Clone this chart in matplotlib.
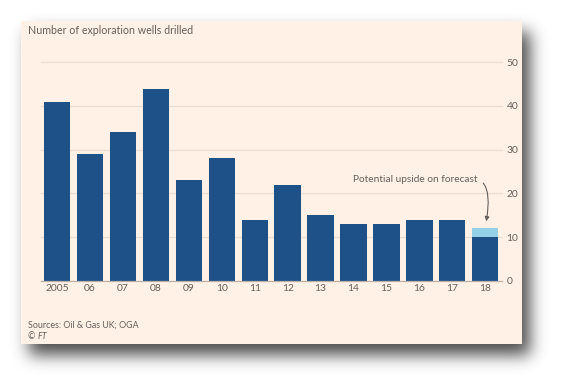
import numpy as np
import matplotlib
matplotlib.use("Agg")
import matplotlib.pyplot as plt
from matplotlib.patches import Rectangle

# ---- data ----
years = ["2005", "06", "07", "08", "09", "10", "11", "12", "13", "14", "15", "16", "17", "18"]
wells = [41, 29, 34, 44, 23, 28, 14, 22, 15, 13, 13, 14, 14, 10]
upside = [0, 0, 0, 0, 0, 0, 0, 0, 0, 0, 0, 0, 0, 2]
yticks = [0, 10, 20, 30, 40, 50]

title = "Number of exploration wells drilled"
source = "Sources: Oil & Gas UK; OGA"
annot = "Potential upside on forecast"

W, H = 564, 387
DPI = 100
BG = "#FFF1E5"
DARK = "#1E5188"
LIGHT = "#96D0E6"
TXT = "#66605C"
GRID = "#EADDD2"

plt.rcParams['font.family'] = ['Lato', 'DejaVu Sans']

fig = plt.figure(figsize=(W / DPI, H / DPI), dpi=DPI, facecolor="white")

# ---- card with blurred drop shadow ----
card = (21, 21, 522, 344)  # left, top, right, bottom in px
off_x, off_y, sigma = 8, 11, 8
mask = np.zeros((H, W))
mask[card[1] + off_y:card[3] + off_y, card[0] + off_x:card[2] + off_x] = 1.0
r = int(3 * sigma)
k = np.exp(-0.5 * (np.arange(-r, r + 1) / sigma) ** 2)
k /= k.sum()
mask = np.apply_along_axis(lambda m: np.convolve(m, k, mode="same"), 0, mask)
mask = np.apply_along_axis(lambda m: np.convolve(m, k, mode="same"), 1, mask)
shadow = np.zeros((H, W, 4))
shadow[..., :3] = 0.22
shadow[..., 3] = np.clip(mask * 0.9, 0, 1)

bgax = fig.add_axes([0, 0, 1, 1])
bgax.imshow(shadow, extent=(0, W, H, 0), interpolation="bilinear")
bgax.add_patch(Rectangle((card[0], card[1]), card[2] - card[0], card[3] - card[1],
                         facecolor=BG, edgecolor="none", zorder=3))
bgax.set_xlim(0, W)
bgax.set_ylim(H, 0)
bgax.axis("off")

# ---- chart axes ----
ax_l, ax_r, ax_t, ax_b = 40.7, 501.7, 62.3, 280.7
ax = fig.add_axes([ax_l / W, 1 - ax_b / H, (ax_r - ax_l) / W, (ax_b - ax_t) / H])
ax.set_facecolor("none")

x = np.arange(len(years))
ax.bar(x, wells, width=0.8, color=DARK, zorder=3)
ax.bar(x, upside, width=0.8, bottom=wells, color=LIGHT, zorder=3)

ax.set_xlim(-0.5, len(years) - 0.5)
ax.set_ylim(0, 50)
ax.set_xticks(x)
ax.set_xticklabels(years)
ax.set_yticks(yticks)
ax.yaxis.tick_right()
for yv in yticks[1:]:
    ax.axhline(yv, color=GRID, lw=0.9, zorder=1, clip_on=False)

for s in ["top", "left", "right"]:
    ax.spines[s].set_visible(False)
ax.spines["bottom"].set_color("#B9B0A8")
ax.spines["bottom"].set_linewidth(0.9)
ax.spines["bottom"].set_zorder(4)
ax.tick_params(axis="both", length=0, labelcolor=TXT, labelsize=7.4)
ax.tick_params(axis="x", pad=2.5)
ax.tick_params(axis="y", pad=3.5)

ax.annotate(annot, xy=(13.03, 13.6), xytext=(12.76, 23.2),
            ha="right", va="center", fontsize=7.3, color=TXT,
            arrowprops=dict(arrowstyle="-|>,head_length=0.35,head_width=0.18",
                            color=TXT, lw=0.8, relpos=(1.0, 0.55),
                            connectionstyle="angle3,angleA=-20,angleB=80",
                            shrinkA=3, shrinkB=0))

# ---- texts ----
fig.text(27.7 / W, 1 - 30.7 / H, title, ha="left", va="center", fontsize=7.7, color=TXT)
fig.text(27.7 / W, 1 - 325.3 / H, source, ha="left", va="center", fontsize=6.4, color=TXT)
fig.text(27.7 / W, 1 - 336.7 / H, "©", ha="left", va="center", fontsize=6.4, color=TXT)
fig.text(37.5 / W, 1 - 336.7 / H, "FT", ha="left", va="center", fontsize=6.4, color=TXT,
         style="italic")

fig.savefig("out.png", dpi=DPI, facecolor="white")
